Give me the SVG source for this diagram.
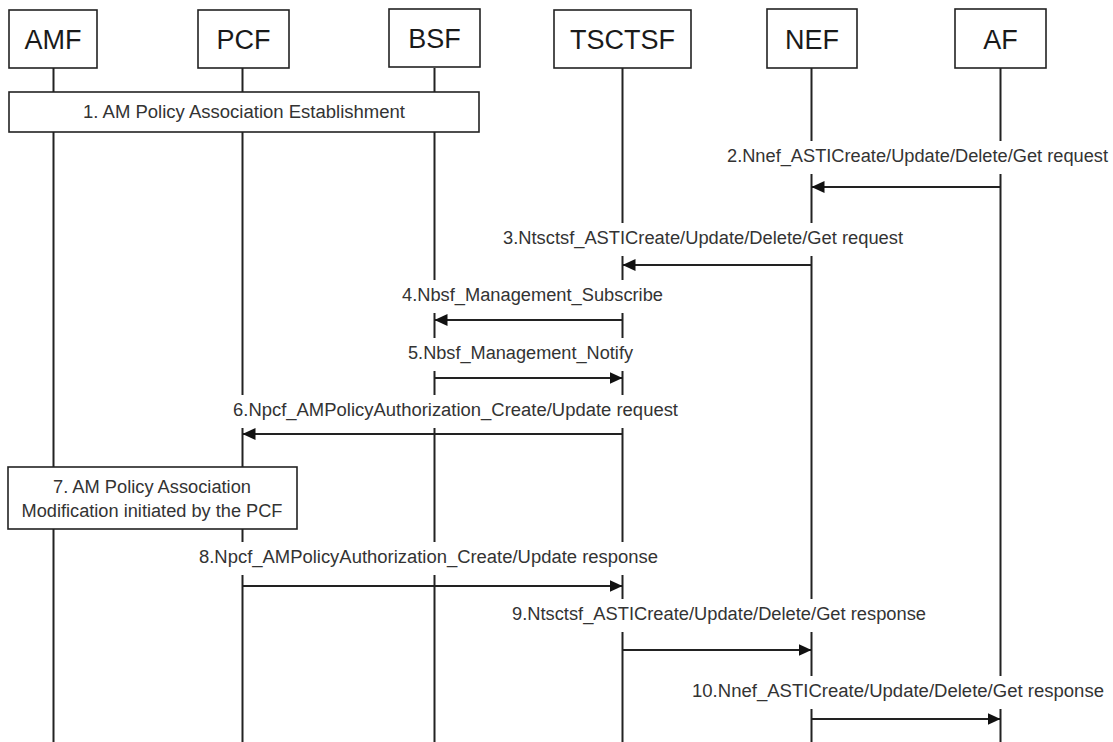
<svg xmlns="http://www.w3.org/2000/svg" width="1113" height="742" viewBox="0 0 1113 742">
<style>
.box{fill:#fff;stroke:#222;stroke-width:1.6}
.life{stroke:#222;stroke-width:2}
.hdr{font-family:"Liberation Sans",Arial,sans-serif;font-size:27px;fill:#1a1a1a;text-anchor:middle}
.lbl{font-family:"Liberation Sans",Arial,sans-serif;font-size:18px;fill:#333}
.ctr{text-anchor:middle}
.msg{stroke:#222;stroke-width:2;fill:none}
.mask{fill:#fff}
</style>
<defs>
<marker id="ah" viewBox="0 0 13 12" refX="13" refY="6" markerWidth="13" markerHeight="12" markerUnits="userSpaceOnUse" orient="auto">
<path d="M0,0L13,6L0,12z" fill="#111"/>
</marker>
</defs>
<rect width="1113" height="742" fill="#fff"/>
<g id="lifelines">
<line class="life" x1="53.5" y1="68" x2="53.5" y2="742"/>
<line class="life" x1="242.5" y1="68" x2="242.5" y2="742"/>
<line class="life" x1="434.5" y1="68" x2="434.5" y2="742"/>
<line class="life" x1="622.5" y1="68" x2="622.5" y2="742"/>
<line class="life" x1="811.5" y1="68" x2="811.5" y2="742"/>
<line class="life" x1="1000.5" y1="68" x2="1000.5" y2="742"/>
</g>
<g id="label-masks">
<rect class="mask" x="724" y="141" width="387" height="33"/>
<rect class="mask" x="500" y="223" width="406" height="33"/>
<rect class="mask" x="399" y="280" width="267" height="33"/>
<rect class="mask" x="405" y="338" width="231" height="33"/>
<rect class="mask" x="230" y="395" width="451" height="33"/>
<rect class="mask" x="196" y="542" width="465" height="33"/>
<rect class="mask" x="509" y="599" width="420" height="33"/>
<rect class="mask" x="689" y="676" width="418" height="33"/>
</g>
<g id="AMF"><rect class="box" x="9" y="10" width="88" height="58"/><text class="hdr" x="53" y="49">AMF</text></g>
<g id="PCF"><rect class="box" x="198" y="10" width="91" height="58"/><text class="hdr" x="243.5" y="49">PCF</text></g>
<g id="BSF"><rect class="box" x="389" y="9" width="91" height="58"/><text class="hdr" x="434.5" y="48">BSF</text></g>
<g id="TSCTSF"><rect class="box" x="554" y="10" width="137" height="58"/><text class="hdr" x="622.5" y="49">TSCTSF</text></g>
<g id="NEF"><rect class="box" x="767" y="9" width="90" height="59"/><text class="hdr" x="812" y="49">NEF</text></g>
<g id="AF"><rect class="box" x="955" y="9" width="91" height="59"/><text class="hdr" x="1000.5" y="49">AF</text></g>
<g id="step1"><rect class="box" x="9" y="92" width="470" height="40"/><text class="lbl ctr" x="244" y="118" textLength="322" lengthAdjust="spacingAndGlyphs">1. AM Policy Association  Establishment</text></g>
<g id="step7"><rect class="box" x="8" y="467" width="289" height="62"/><text class="lbl ctr" x="152" y="493" textLength="198" lengthAdjust="spacingAndGlyphs">7. AM Policy Association</text><text class="lbl ctr" x="152" y="517" textLength="261" lengthAdjust="spacingAndGlyphs">Modification  initiated  by the PCF</text></g>
<g id="connectors">
<line class="msg" x1="1000.5" y1="187" x2="811.5" y2="187" marker-end="url(#ah)"/>
<text class="lbl" x="727" y="162" textLength="381" lengthAdjust="spacingAndGlyphs">2.Nnef_ASTICreate/Update/Delete/Get  request</text>
<line class="msg" x1="811.5" y1="265" x2="622.5" y2="265" marker-end="url(#ah)"/>
<text class="lbl" x="503" y="244" textLength="400" lengthAdjust="spacingAndGlyphs">3.Ntsctsf_ASTICreate/Update/Delete/Get  request</text>
<line class="msg" x1="622.5" y1="320" x2="434.5" y2="320" marker-end="url(#ah)"/>
<text class="lbl" x="402" y="301" textLength="261" lengthAdjust="spacingAndGlyphs">4.Nbsf_Management_Subscribe</text>
<line class="msg" x1="434.5" y1="378" x2="622.5" y2="378" marker-end="url(#ah)"/>
<text class="lbl" x="408" y="359" textLength="225" lengthAdjust="spacingAndGlyphs">5.Nbsf_Management_Notify</text>
<line class="msg" x1="622.5" y1="434" x2="242.5" y2="434" marker-end="url(#ah)"/>
<text class="lbl" x="233" y="416" textLength="445" lengthAdjust="spacingAndGlyphs">6.Npcf_AMPolicyAuthorization_Create/Update  request</text>
<line class="msg" x1="242.5" y1="586" x2="622.5" y2="586" marker-end="url(#ah)"/>
<text class="lbl" x="199" y="563" textLength="459" lengthAdjust="spacingAndGlyphs">8.Npcf_AMPolicyAuthorization_Create/Update  response</text>
<line class="msg" x1="622.5" y1="650" x2="811.5" y2="650" marker-end="url(#ah)"/>
<text class="lbl" x="512" y="620" textLength="414" lengthAdjust="spacingAndGlyphs">9.Ntsctsf_ASTICreate/Update/Delete/Get  response</text>
<line class="msg" x1="811.5" y1="719" x2="1000.5" y2="719" marker-end="url(#ah)"/>
<text class="lbl" x="692" y="697" textLength="412" lengthAdjust="spacingAndGlyphs">10.Nnef_ASTICreate/Update/Delete/Get  response</text>
</g>
</svg>
